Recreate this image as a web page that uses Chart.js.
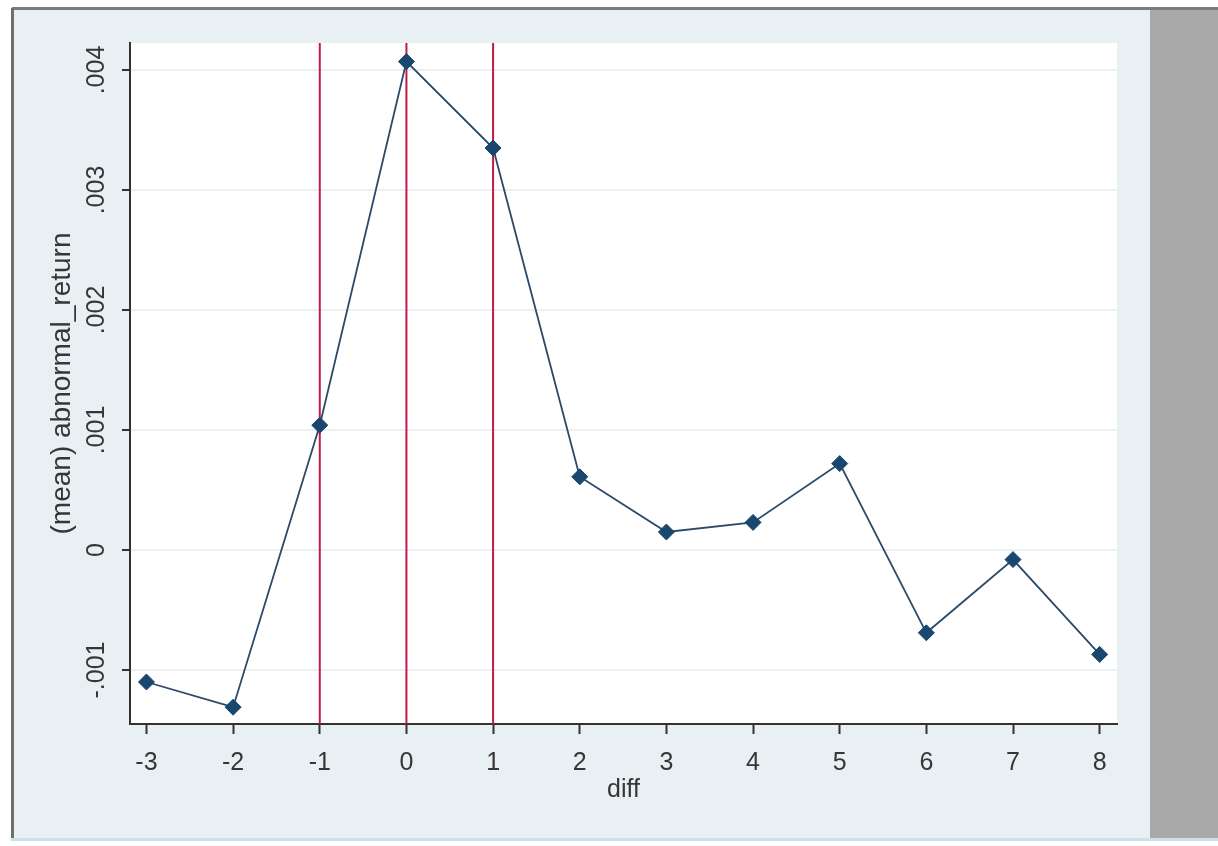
<!DOCTYPE html>
<html>
<head>
<meta charset="utf-8">
<script src="https://cdn.jsdelivr.net/npm/chart.js@4/dist/chart.umd.min.js"></script>
<style>
  body { margin: 0; background: #ffffff; width: 1218px; height: 846px; position: relative; overflow: hidden; }
  #topline { position: absolute; left: 12px; top: 7px; width: 1206px; height: 3px; background: #7b7b7b; }
  #leftline { position: absolute; left: 11px; top: 8px; width: 3px; height: 830px; background: #6f6f6f; }
  #frame { position: absolute; left: 14px; top: 10px; width: 1136px; height: 828px; background: #e9f0f3; }
  #side { position: absolute; left: 1150px; top: 10px; width: 68px; height: 828px; background: #a9a9a9; }
  #bottomline { position: absolute; left: 11px; top: 838px; width: 1207px; height: 3px; background: #c9e1e8; }
  #chart { position: absolute; left: 0; top: 0; }
</style>
</head>
<body>
<div id="topline"></div>
<div id="leftline"></div>
<div id="frame"><canvas id="chart" width="1136" height="828"></canvas></div>
<div id="side"></div>
<div id="bottomline"></div>
<script>
const diff = [-3, -2, -1, 0, 1, 2, 3, 4, 5, 6, 7, 8];
const meanAbnormalReturn = [-0.00110, -0.00131, 0.00104, 0.00407, 0.00335, 0.00061, 0.00015, 0.00023, 0.00072, -0.00069, -0.00008, -0.00087];
const xTicks = [-3, -2, -1, 0, 1, 2, 3, 4, 5, 6, 7, 8];
const yTicks = [-0.001, 0, 0.001, 0.002, 0.003, 0.004];
const xLines = [-1, 0, 1];

const yMin = -0.00145, yMax = 0.004225;
const xMin = -3.19, xMax = 8.2;

const font = "'Liberation Sans', Arial, sans-serif";
const textColor = "#363636";
const axisColor = "#333333";

function fmtY(v) {
  if (v === 0) return "0";
  return v.toFixed(3).replace("0.", ".");
}

// white plot region
const plotBg = {
  id: "plotBg",
  beforeDraw(chart) {
    const a = chart.chartArea;
    const c = chart.ctx;
    c.save();
    c.fillStyle = "#ffffff";
    c.fillRect(a.left, a.top, a.right - a.left, a.bottom - a.top);
    c.restore();
  }
};

const datasets = [{
  label: "(mean) abnormal_return",
  data: diff.map((d, i) => ({ x: d, y: meanAbnormalReturn[i] })),
  borderColor: "#2c4a68",
  borderWidth: 1.8,
  pointStyle: "rectRot",
  pointRadius: 8,
  pointBackgroundColor: "#1a476f",
  pointBorderColor: "#1a476f",
  pointBorderWidth: 1,
  tension: 0
}];
xLines.forEach(v => {
  datasets.push({
    label: "xline " + v,
    data: [{ x: v, y: yMin }, { x: v, y: yMax }],
    borderColor: "#c21a45",
    borderWidth: 2,
    pointRadius: 0
  });
});

const ctx = document.getElementById("chart").getContext("2d");
new Chart(ctx, {
  type: "line",
  data: { datasets: datasets },
  plugins: [plotBg],
  options: {
    responsive: false,
    animation: false,
    layout: { padding: { left: 0, top: 33, right: 33, bottom: 0 } },
    plugins: { legend: { display: false }, tooltip: { enabled: false } },
    scales: {
      x: {
        type: "linear",
        min: xMin,
        max: xMax,
        afterBuildTicks: s => { s.ticks = xTicks.map(v => ({ value: v })); },
        afterFit: s => { s.height = 114; },
        grid: { drawOnChartArea: false, drawTicks: true, tickLength: 10, tickColor: axisColor, tickWidth: 2 },
        border: { color: axisColor, width: 2 },
        ticks: { color: textColor, font: { family: font, size: 25 }, padding: 14, maxRotation: 0, autoSkip: false },
        title: { display: true, text: "diff", color: textColor, font: { family: font, size: 25 }, padding: { top: 0, bottom: 33 } }
      },
      y: {
        type: "linear",
        min: yMin,
        max: yMax,
        afterBuildTicks: s => { s.ticks = yTicks.map(v => ({ value: v })); },
        afterFit: s => { s.width = 116; },
        grid: { color: "#eaf1f3", lineWidth: 2, drawTicks: true, tickLength: 8, tickColor: axisColor, tickWidth: 2 },
        border: { color: axisColor, width: 2 },
        ticks: {
          color: textColor, font: { family: font, size: 25 }, padding: -4,
          minRotation: 90, maxRotation: 90, crossAlign: "center",
          callback: v => fmtY(v)
        },
        title: { display: true, text: "(mean) abnormal_return", color: textColor, font: { family: font, size: 28 }, padding: { top: 31, bottom: 0 } }
      }
    }
  }
});
</script>
</body>
</html>
